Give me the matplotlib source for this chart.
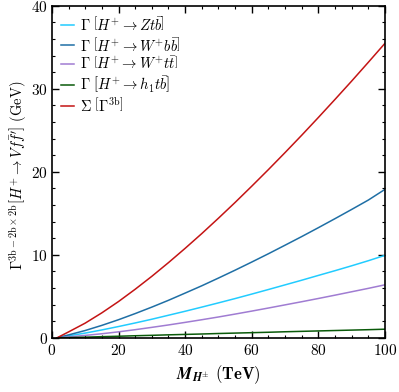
import matplotlib
matplotlib.use('Agg')
import matplotlib.pyplot as plt
from matplotlib.ticker import MultipleLocator

plt.rcParams['mathtext.fontset'] = 'cm'
plt.rcParams['font.family'] = 'serif'
plt.rcParams['font.serif'] = ['cmr10', 'DejaVu Serif']
plt.rcParams['axes.formatter.use_mathtext'] = True

# charged Higgs mass (TeV)
mass = [1.5, 5, 10, 15, 20, 25, 30, 35, 40, 45, 50, 55, 60, 65, 70, 75, 80, 85, 90, 95, 100]

# partial widths (GeV)
w_ztb = [0, 0.25, 0.58, 0.96, 1.37, 1.80, 2.25, 2.73, 3.21, 3.71, 4.22, 4.74, 5.28, 5.83,
         6.39, 6.95, 7.53, 8.10, 8.69, 9.30, 9.95]
w_wbb = [0, 0.36, 0.89, 1.51, 2.19, 2.93, 3.71, 4.53, 5.40, 6.28, 7.21, 8.16, 9.14, 10.14,
         11.17, 12.21, 13.28, 14.37, 15.48, 16.61, 17.9]
w_wtt = [0, 0.12, 0.30, 0.50, 0.73, 0.99, 1.27, 1.56, 1.87, 2.19, 2.52, 2.87, 3.23, 3.60,
         3.98, 4.36, 4.75, 5.15, 5.56, 5.97, 6.40]
w_htb = [0, 0.04, 0.09, 0.15, 0.20, 0.26, 0.31, 0.37, 0.42, 0.47, 0.53, 0.58, 0.63, 0.68,
         0.74, 0.79, 0.84, 0.89, 0.94, 0.99, 1.05]
w_sum = [0, 0.72, 1.78, 3.02, 4.38, 5.86, 7.42, 9.07, 10.79, 12.57, 14.42, 16.32, 18.28, 20.28,
         22.33, 24.42, 26.56, 28.74, 30.95, 33.21, 35.5]

labels = [r'$\Gamma\ \left[H^{+}\rightarrow Zt\bar{b}\right]$',
          r'$\Gamma\ \left[H^{+}\rightarrow W^{+}b\bar{b}\right]$',
          r'$\Gamma\ \left[H^{+}\rightarrow W^{+}t\bar{t}\right]$',
          r'$\Gamma\ \left[H^{+}\rightarrow h_1 t\bar{b}\right]$',
          r'$\Sigma\ \left[\Gamma^{\rm 3b}\right]$']
colors = ['#22ccff', '#1f6fa5', '#a07cd2', '#0a5a0a', '#c41414']

fig = plt.figure(figsize=(3.99, 3.92), dpi=100)
ax = fig.add_axes([0.130, 0.138, 0.835, 0.847])

for ys, lab, c in zip([w_ztb, w_wbb, w_wtt, w_htb, w_sum], labels, colors):
    ax.plot(mass, ys, color=c, lw=1.1, label=lab)

ax.set_xlim(0, 100)
ax.set_ylim(0, 40)
ax.xaxis.set_major_locator(MultipleLocator(20))
ax.xaxis.set_minor_locator(MultipleLocator(5))
ax.yaxis.set_major_locator(MultipleLocator(10))
ax.yaxis.set_minor_locator(MultipleLocator(2))
ax.tick_params(which='both', direction='in', top=True, right=True, labelsize=11)
ax.tick_params(which='major', length=5, width=1)
ax.tick_params(which='minor', length=2.5, width=0.8)
ax.tick_params(axis='y', pad=3)
for s in ax.spines.values():
    s.set_linewidth(1.2)

ax.set_xlabel(r'$\mathbfit{M}_{\mathbfit{H}^{\pm}}$ $\mathbf{(TeV)}$', fontsize=12)
ax.set_ylabel(r'$\mathbf{\Gamma}^{\rm 3b-2b\times2b}\left[H^{+}\rightarrow Vf\bar{f}^{\prime}\right]$ (GeV)',
              fontsize=10.5)
ax.yaxis.set_label_coords(-0.07, 0.49)

ax.legend(loc='upper left', frameon=False, fontsize=10.5, handlelength=0.9,
          handletextpad=0.4, labelspacing=0.15, borderaxespad=0.25)

fig.savefig('out.png', dpi=100)
